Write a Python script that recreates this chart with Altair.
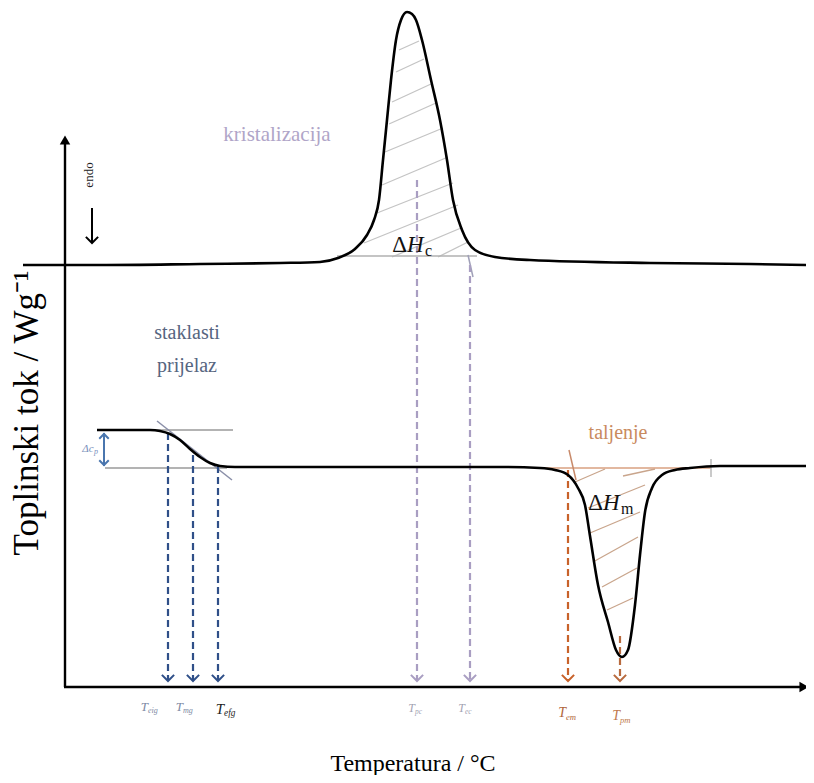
import altair as alt
import pandas as pd

# ---------------- data (schematic positions: temperature -> x, heat flow -> y, screen-like) ----
# upper DSC curve (cold crystallisation exotherm)
cryst_T = [23, 100, 200, 280, 320, 338, 355, 367, 374, 379, 383, 387, 391, 396, 401, 407, 412, 416,
           422, 431, 440, 447, 453, 462, 475, 495, 530, 650, 750, 808]
cryst_Q = [265, 265, 264, 263, 262, 258, 249, 235, 220, 200, 160, 120, 80, 40, 20, 12, 14, 20,
           40, 80, 120, 160, 200, 230, 250, 257, 260, 263, 264, 265]

# lower DSC curve (glass transition step + melting endotherm)
melt_T = [97, 120, 150, 160, 170, 180, 190, 200, 210, 220, 235, 300, 400, 500, 540, 555, 568, 578,
          585, 590, 598, 608, 616, 622, 628, 635, 640, 645, 652, 662, 675, 690, 720, 760, 808]
melt_Q = [430, 430, 430, 431, 434, 440, 449, 457, 463, 466, 467, 467, 467, 467, 468, 470, 475, 488,
          505, 536, 585, 622, 650, 657, 650, 605, 555, 512, 488, 475, 470, 468, 466, 466, 466]

# characteristic temperatures (dashed drop lines): x, start y, colour
char_T = [168, 193, 218, 417, 470, 568, 620]
char_Q0 = [433, 455, 466, 180, 265, 470, 636]
char_col = ["#2f4f88", "#2f4f88", "#2f4f88", "#a99ec2", "#a99ec2", "#c8622a", "#b86a3e"]
axis_Q = 681

# construction lines (x1, y1, x2, y2, colour)
guide_x1 = [97, 105, 157, 337, 468, 540, 569, 711]
guide_y1 = [430, 468, 421, 256, 255, 468, 450, 459]
guide_x2 = [233, 227, 232, 477, 473, 711, 576, 711]
guide_y2 = [430, 468, 480, 256, 277, 468, 480, 477]
guide_col = ["#9a9a9a", "#9a9a9a", "#8a8fa8", "#b0b0b0", "#a0a0b8", "#d9a080", "#c88a6a", "#b8b8b8"]

# hatching of the crystallisation peak
hc_x1 = [399, 396, 392, 389, 385, 382, 377, 364, 392, 438]
hc_y1 = [50, 72, 102, 124, 152, 185, 213, 243, 257, 257]
hc_x2 = [419, 424, 431, 436, 443, 448, 453, 458, 461, 468]
hc_y2 = [41, 59, 84, 103, 128, 157, 183, 205, 228, 242]

# hatching of the melting peak
hm_x1 = [575, 623, 588, 590, 593, 602, 607]
hm_y1 = [482, 476, 508, 533, 562, 587, 610]
hm_x2 = [605, 655, 645, 640, 638, 637, 633]
hm_y2 = [469, 469, 485, 512, 537, 568, 598]

# tick-like labels under the temperature axis
tl_x = [150, 185, 226, 417, 467, 568, 622]
tl_y = [707, 707, 709, 708, 708, 713, 716]
tl_sub = ["eig", "mg", "efg", "pc", "ec", "em", "pm"]
tl_col = ["#7d8aa4", "#7d8aa4", "#222222", "#a3a3b3", "#a3a3b3", "#b0663a", "#c07a4c"]
tl_size = [13, 13, 15, 12, 12, 14, 14]

# region annotations
ann_text = ["kristalizacija", "staklasti", "prijelaz", "taljenje"]
ann_x = [277, 187, 187, 618]
ann_y = [135, 333, 366, 433]
ann_col = ["#b0a5c8", "#56657f", "#56657f", "#c98a5e"]
ann_size = [21, 20, 20, 20]

# ---------------- scales ----------------
xs = alt.Scale(domain=[8, 806], nice=False, zero=False)
ys = alt.Scale(domain=[8, 775], nice=False, zero=False, reverse=True)


def X(f="x"):
    return alt.X(f"{f}:Q", scale=xs, axis=None)


def Y(f="y"):
    return alt.Y(f"{f}:Q", scale=ys, axis=None)


SERIF = "Liberation Serif"
layers = []

# axes
ax = pd.DataFrame({"x": [65, 64], "y": [140, 687], "x2": [65, 804], "y2": [687, 687]})
layers.append(alt.Chart(ax).mark_rule(color="black", strokeWidth=2.4).encode(
    x=X(), y=Y(), x2="x2:Q", y2="y2:Q"))
layers.append(alt.Chart(pd.DataFrame({"x": [65], "y": [140]})).mark_point(
    shape="triangle-up", filled=True, color="black", size=110, opacity=1).encode(x=X(), y=Y()))
layers.append(alt.Chart(pd.DataFrame({"x": [804], "y": [687]})).mark_point(
    shape="triangle-right", filled=True, color="black", size=110, opacity=1).encode(x=X(), y=Y()))

# hatching
hc = pd.DataFrame({"x": hc_x1, "y": hc_y1, "x2": hc_x2, "y2": hc_y2})
layers.append(alt.Chart(hc).mark_rule(color="#c4c4c4", strokeWidth=1.3).encode(
    x=X(), y=Y(), x2="x2:Q", y2="y2:Q"))
hm = pd.DataFrame({"x": hm_x1, "y": hm_y1, "x2": hm_x2, "y2": hm_y2})
layers.append(alt.Chart(hm).mark_rule(color="#c9a58c", strokeWidth=1.3).encode(
    x=X(), y=Y(), x2="x2:Q", y2="y2:Q"))

# construction lines
gd = pd.DataFrame({"x": guide_x1, "y": guide_y1, "x2": guide_x2, "y2": guide_y2, "c": guide_col})
layers.append(alt.Chart(gd).mark_rule(strokeWidth=1.5).encode(
    x=X(), y=Y(), x2="x2:Q", y2="y2:Q", color=alt.Color("c:N", scale=None)))

# dashed drop lines
dd = pd.DataFrame({"x": char_T, "y": char_Q0, "y2": [axis_Q] * len(char_T), "c": char_col})
layers.append(alt.Chart(dd).mark_rule(strokeWidth=2.2, strokeDash=[7, 4]).encode(
    x=X(), y=Y(), y2="y2:Q", color=alt.Color("c:N", scale=None)))
ah = pd.DataFrame({"x": char_T, "y": [axis_Q] * len(char_T), "c": char_col})
layers.append(alt.Chart(ah).mark_point(shape="M-1,-1L0,0L1,-1", filled=False, size=150,
                                       strokeWidth=2, opacity=1).encode(
    x=X(), y=Y(), color=alt.Color("c:N", scale=None)))

# delta cp double arrow
dcp = pd.DataFrame({"x": [104], "y": [433], "y2": [466]})
layers.append(alt.Chart(dcp).mark_rule(color="#4a76ae", strokeWidth=2).encode(x=X(), y=Y(), y2="y2:Q"))
layers.append(alt.Chart(pd.DataFrame({"x": [104], "y": [434]})).mark_point(
    shape="M-1,1L0,0L1,1", filled=False, size=90, strokeWidth=2, color="#4a76ae", opacity=1).encode(x=X(), y=Y()))
layers.append(alt.Chart(pd.DataFrame({"x": [104], "y": [465]})).mark_point(
    shape="M-1,-1L0,0L1,-1", filled=False, size=90, strokeWidth=2, color="#4a76ae", opacity=1).encode(x=X(), y=Y()))

# endo arrow
en = pd.DataFrame({"x": [92], "y": [208], "y2": [243]})
layers.append(alt.Chart(en).mark_rule(color="black", strokeWidth=2).encode(x=X(), y=Y(), y2="y2:Q"))
layers.append(alt.Chart(pd.DataFrame({"x": [92], "y": [243]})).mark_point(
    shape="M-1,-1L0,0L1,-1", filled=False, size=150, strokeWidth=2, color="black", opacity=1).encode(x=X(), y=Y()))

# DSC curves
cr = pd.DataFrame({"x": cryst_T, "y": cryst_Q})
layers.append(alt.Chart(cr).mark_line(color="black", strokeWidth=2.6, interpolate="monotone").encode(x=X(), y=Y()))
ml = pd.DataFrame({"x": melt_T, "y": melt_Q})
layers.append(alt.Chart(ml).mark_line(color="black", strokeWidth=2.6, interpolate="monotone").encode(x=X(), y=Y()))

# annotations
an = pd.DataFrame({"x": ann_x, "y": ann_y, "t": ann_text, "c": ann_col, "s": ann_size})
layers.append(alt.Chart(an).mark_text(font=SERIF, baseline="middle").encode(
    x=X(), y=Y(), text="t:N", color=alt.Color("c:N", scale=None), size=alt.Size("s:Q", scale=None)))

# delta H labels (upright delta, italic H, upright subscript)
dd_ = pd.DataFrame({"x": [407, 603], "y": [245, 503], "t": ["Δ", "Δ"]})
layers.append(alt.Chart(dd_).mark_text(font=SERIF, fontSize=23, baseline="middle", align="right",
                                       color="#111111").encode(x=X(), y=Y(), text="t:N"))
dh = pd.DataFrame({"x": [407, 603], "y": [245, 503], "t": ["H", "H"]})
layers.append(alt.Chart(dh).mark_text(font=SERIF, fontSize=23, fontStyle="italic", baseline="middle",
                                      align="left", color="#111111").encode(x=X(), y=Y(), text="t:N"))
dhs = pd.DataFrame({"x": [425, 621], "y": [251, 509], "t": ["c", "m"]})
layers.append(alt.Chart(dhs).mark_text(font=SERIF, fontSize=16, baseline="middle", align="left",
                                       color="#111111").encode(x=X(), y=Y(), text="t:N"))

# delta cp label
layers.append(alt.Chart(pd.DataFrame({"x": [88], "y": [449], "t": ["Δc"]})).mark_text(
    font=SERIF, fontSize=11, fontStyle="italic", baseline="middle", color="#7a8fbc").encode(
    x=X(), y=Y(), text="t:N"))
layers.append(alt.Chart(pd.DataFrame({"x": [94], "y": [452], "t": ["p"]})).mark_text(
    font=SERIF, fontSize=8, fontStyle="italic", baseline="middle", align="left", color="#7a8fbc").encode(
    x=X(), y=Y(), text="t:N"))

# temperature labels
tlT = pd.DataFrame({"x": [v - 2 for v in tl_x], "y": tl_y, "t": ["T"] * len(tl_x), "c": tl_col, "s": tl_size})
layers.append(alt.Chart(tlT).mark_text(font=SERIF, fontStyle="italic", baseline="middle", align="right").encode(
    x=X(), y=Y(), text="t:N", color=alt.Color("c:N", scale=None), size=alt.Size("s:Q", scale=None)))
tlS = pd.DataFrame({"x": [v - 2 for v in tl_x], "y": [v + 4 for v in tl_y], "t": tl_sub, "c": tl_col,
                    "s": [v * 0.62 for v in tl_size]})
layers.append(alt.Chart(tlS).mark_text(font=SERIF, fontStyle="italic", baseline="middle", align="left").encode(
    x=X(), y=Y(), text="t:N", color=alt.Color("c:N", scale=None), size=alt.Size("s:Q", scale=None)))

# endo label
layers.append(alt.Chart(pd.DataFrame({"x": [89], "y": [175], "t": ["endo"]})).mark_text(
    font=SERIF, fontSize=13, angle=270, baseline="middle", color="#222222").encode(x=X(), y=Y(), text="t:N"))

# axis titles
layers.append(alt.Chart(pd.DataFrame({"x": [413], "y": [764], "t": ["Temperatura / °C"]})).mark_text(
    font=SERIF, fontSize=24, baseline="middle", color="black").encode(x=X(), y=Y(), text="t:N"))
layers.append(alt.Chart(pd.DataFrame({"x": [27], "y": [413], "t": ["Toplinski tok / Wg⁻¹"]})).mark_text(
    font=SERIF, fontSize=35, angle=270, baseline="middle", color="black").encode(x=X(), y=Y(), text="t:N"))

chart = alt.layer(*layers).properties(
    width=798, height=767, padding=0, background="white",
    autosize=alt.AutoSizeParams(type="none")
).configure_view(stroke="transparent", strokeWidth=0)

chart.save("out.html", embed_options={"renderer": "svg", "actions": False})
